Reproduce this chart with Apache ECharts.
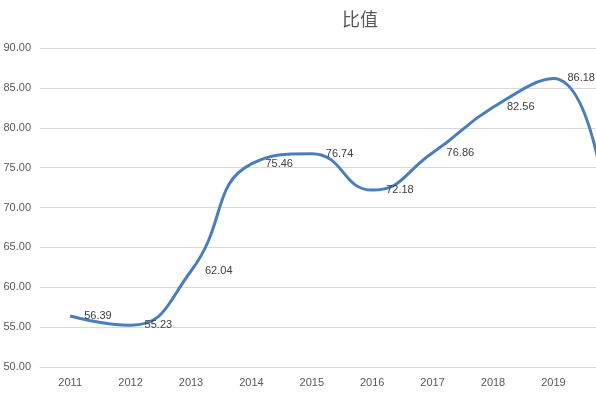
<!DOCTYPE html>
<html>
<head>
<meta charset="utf-8">
<script src="https://cdn.jsdelivr.net/npm/echarts@6/dist/echarts.min.js"></script>
<style>
html,body{margin:0;padding:0;background:#fff;overflow:hidden;}
#chart{width:644px;height:397px;}
</style>
</head>
<body>
<div id="chart"></div>
<script>
var years = ['2011', '2012', '2013', '2014', '2015', '2016', '2017', '2018', '2019', '2020'];
var ratio = [56.39, 55.23, 62.04, 75.46, 76.74, 72.18, 76.86, 82.56, 86.18, 63.0];

var myChart = echarts.init(document.getElementById('chart'));
var option = {
    animation: false,
    title: {
        text: '比值',
        left: 337,
        top: 5,
        textStyle: {
            color: '#595959',
            fontSize: 18,
            fontWeight: 'normal',
            fontFamily: 'Noto Sans CJK SC'
        }
    },
    grid: {
        left: 40,
        right: 0,
        top: 48,
        bottom: 30
    },
    xAxis: {
        type: 'category',
        data: years,
        boundaryGap: true,
        axisTick: { show: false },
        axisLine: { lineStyle: { color: '#d9d9d9' } },
        axisLabel: {
            color: '#595959',
            fontSize: 11,
            margin: 10,
            interval: 0,
            fontFamily: 'Liberation Sans'
        }
    },
    yAxis: {
        type: 'value',
        min: 50,
        max: 90,
        interval: 5,
        axisLine: { show: false },
        axisTick: { show: false },
        splitLine: { lineStyle: { color: '#d9d9d9' } },
        axisLabel: {
            color: '#595959',
            fontSize: 11,
            margin: 9,
            fontFamily: 'Liberation Sans',
            formatter: function (v) { return v.toFixed(2); }
        }
    },
    series: [{
        type: 'line',
        data: ratio,
        smooth: 0.5,
        symbol: 'circle',
        symbolSize: 0,
        showSymbol: true,
        lineStyle: { color: '#4a7ebb', width: 3 },
        itemStyle: { color: '#4a7ebb' },
        label: {
            show: true,
            position: 'right',
            distance: 14,
            color: '#404040',
            fontSize: 11,
            fontFamily: 'Liberation Sans',
            formatter: function (p) { return p.value.toFixed(2); }
        }
    }]
};
myChart.setOption(option);
</script>
</body>
</html>
